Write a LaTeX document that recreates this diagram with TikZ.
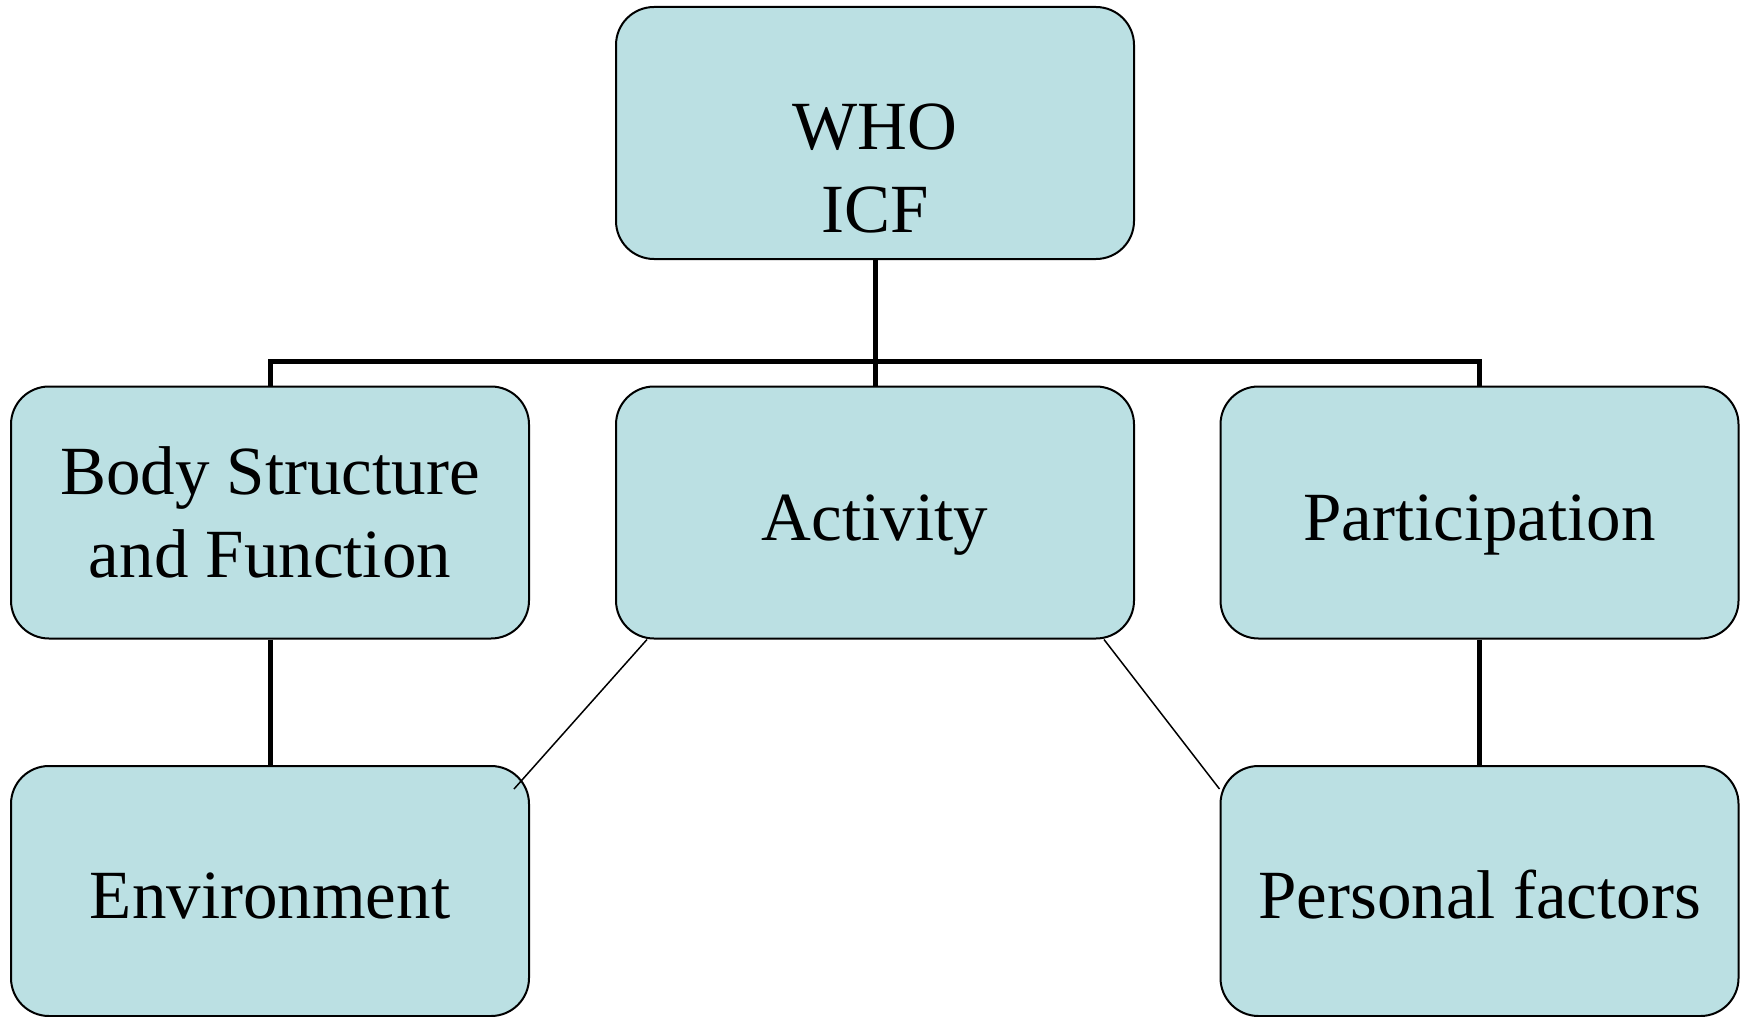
\documentclass[tikz,border=0pt]{standalone}
\usepackage{fontspec}
\setmainfont{Liberation Serif}
\usepackage{xcolor}
\usepackage{tikz}
\usetikzlibrary{calc}
\definecolor{cardfill}{HTML}{BBE0E3}
\tikzset{card/.style={draw,line width=1pt,fill=cardfill,rounded corners=19pt,
    minimum width=259pt,minimum height=126pt,inner sep=0pt}}
\tikzset{cardtext/.style={align=center,inner sep=0pt,font=\fontsize{34.5}{41.5}\selectfont}}
\tikzset{oneline/.style={text height=31pt,text depth=3.4pt}}
\tikzset{trunk/.style={line width=2.5pt}}
\tikzset{twig/.style={line width=0.75pt}}

\begin{document}
\begin{tikzpicture}[x=0.5pt,y=0.5pt]
	\useasboundingbox (0,0) rectangle (1743,-1016);
	% top box
	\node[card] (who) at (875,-133) {};
	\node[cardtext] (whotext) at ([yshift=-17.5pt]who.center) {WHO\\ICF};
	% middle row
	\node[card,cardtext] (body) at (270,-512.5) {Body Structure\\and Function};
	\node[card,cardtext,oneline] (act) at (875,-512.5) {Activity};
	\node[card,cardtext,oneline] (part) at (1479.5,-512.5) {Participation};
	% bottom row
	\node[card,cardtext,oneline,minimum height=125pt] (env) at (270,-891) {Environment};
	\node[card,cardtext,oneline,minimum height=125pt] (pers) at (1479.5,-891) {Personal factors};
	\coordinate (hub) at (875,-361);
	\draw[trunk] (who) -- (act);
	\draw[trunk] (body.north) -- (body.north |- hub) -- (part.north |- hub) -- (part.north);
	\draw[trunk] (body) -- (env);
	\draw[trunk] (part) -- (pers);
	\draw[twig] ([xshift=16pt]act.south west) -- ([xshift=-8pt,yshift=-12pt]env.north east);
	\draw[twig] ([xshift=-15.5pt]act.south east) -- ([yshift=-12pt]pers.north west);
\end{tikzpicture}
\end{document}
